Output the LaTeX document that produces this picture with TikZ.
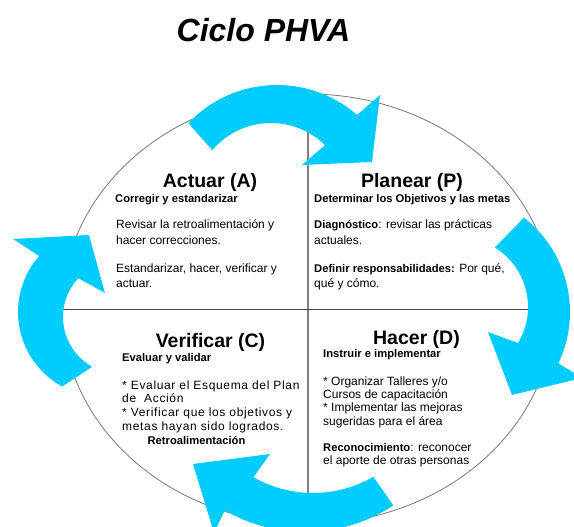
\documentclass[tikz,border=0pt]{standalone}
\usepackage{fontspec}
\setmainfont{Liberation Sans}
\newfontfamily\vsfont[LetterSpace=5.5]{Liberation Sans}
\usetikzlibrary{shapes.geometric}
\definecolor{arrowc}{RGB}{0,204,255}
\definecolor{ellc}{RGB}{120,120,120}
\definecolor{vlc}{RGB}{128,128,128}
\definecolor{hlc}{RGB}{70,70,70}
\newcommand\boldlab[1]{{\fontsize{11.2}{13}\selectfont\bfseries #1}}
\begin{document}
\begin{tikzpicture}[x=1pt,y=-1pt,
  hd/.style={font=\fontsize{19.5}{21}\selectfont\bfseries, anchor=base, inner sep=0},
  sub/.style={font=\fontsize{11.2}{13}\selectfont\bfseries, anchor=base west, inner sep=0},
  bd/.style={font=\fontsize{12}{14}\selectfont, anchor=base west, inner sep=0},
  bdv/.style={font=\vsfont\fontsize{12}{14}\selectfont, anchor=base west, inner sep=0},
  blk/.style={fill=arrowc},
  vline/.style={draw=vlc, line width=1.1pt},
  hline/.style={draw=hlc, line width=0.8pt}]
\fill[white] (0,0) rectangle (574,527);
\useasboundingbox (0,0) rectangle (574,527);
% title
\node[font=\fontsize{32}{34}\selectfont\bfseries\itshape, anchor=base, inner sep=0] (title) at (263.5,42) {Ciclo PHVA};
% ellipse and axes
\node[draw=ellc, line width=0.8pt, ellipse, minimum width=492pt, minimum height=430pt, inner sep=0] (E) at (308,309) {};
\draw[vline] (E.north) -- (E.south);
\draw[hline] (E.west) -- (E.east);
% arrows
\coordinate (tcO) at (277,207);
\coordinate (tcI) at (271,200);
\coordinate (rcO) at (450,312);
\coordinate (rcI) at (458,307);
\coordinate (bcO) at (305,372);
\coordinate (bcI) at (313,373);
\coordinate (lcO) at (103,312);
\coordinate (lcI) at (120,317);
\begin{scope}
\clip (0,0) rectangle (574,527);
\fill[blk] ([shift={(-136.6:122)}]tcO) arc[start angle=-136.6, end angle=-49, radius=122]
  -- (380,95) -- (372,162) -- (302,165)
  -- ([shift={(-45.5:77)}]tcI) arc[start angle=-45.5, end angle=-139.7, radius=77] -- cycle;
\fill[blk] ([shift={(-51.9:120)}]rcO) arc[start angle=-51.9, end angle=25.3, radius=120]
  -- (582,378) -- (512,395) -- (488,332)
  -- ([shift={(31:70)}]rcI) arc[start angle=31, end angle=-58.3, radius=70] -- cycle;
\fill[blk] ([shift={(56.5:160)}]bcO) arc[start angle=56.5, end angle=120.1, radius=160]
  -- (214,533) -- (193,464) -- (270,454)
  -- ([shift={(119.7:120)}]bcI) arc[start angle=119.7, end angle=59.8, radius=120] -- cycle;
\fill[blk] ([shift={(118.7:85)}]lcO) arc[start angle=118.7, end angle=221.2, radius=85]
  -- (13,239) -- (89,235) -- (105,293)
  -- ([shift={(222.9:57)}]lcI) arc[start angle=222.9, end angle=119.2, radius=57] -- cycle;
\end{scope}
% Actuar
\node[hd] (aH) at (210,188) {Actuar (A)};
\node[sub] (aS) at (115,202) {Corregir y estandarizar};
\node[bd] (a1) at (116,229) {Revisar la retroalimentación y};
\node[bd] (a2) at (116,244) {hacer correcciones.};
\node[bd] (a3) at (116,272) {Estandarizar, hacer, verificar y};
\node[bd] (a4) at (116,287) {actuar.};
% Planear
\node[hd] (pH) at (412,188) {Planear (P)};
\node[sub] (pS) at (314,202) {Determinar los Objetivos y las metas};
\node[bd] (p1) at (314,229) {\boldlab{Diagnóstico}: revisar las prácticas};
\node[bd] (p2) at (314,244) {actuales.};
\node[bd] (p3) at (314,272) {\boldlab{Definir responsabilidades:} Por qué,};
\node[bd] (p4) at (314,287) {qué y cómo.};
% Verificar
\node[hd] (vH) at (210.5,347) {Verificar (C)};
\node[sub] (vS) at (122,361) {Evaluar y validar};
\node[bdv] (v1) at (122,389) {* Evaluar el Esquema del Plan};
\node[bdv] (v2) at (122,402) {de\ \ Acción};
\node[bdv] (v3) at (122,416) {* Verificar que los objetivos y};
\node[bdv] (v4) at (122,430) {metas hayan sido logrados.};
\node[sub, anchor=base] (v5) at (196.5,444) {Retroalimentación};
% Hacer
\node[hd] (hH) at (416.5,344) {Hacer (D)};
\node[sub] (hS) at (323,357) {Instruir e implementar};
\node[bd] (h1) at (323,385) {* Organizar Talleres y/o};
\node[bd] (h2) at (323,398) {Cursos de capacitación};
\node[bd] (h3) at (323,411) {* Implementar las mejoras};
\node[bd] (h4) at (323,425) {sugeridas para el área};
\node[bd] (h5) at (323,451) {\boldlab{Reconocimiento}: reconocer};
\node[bd] (h6) at (323,464) {el aporte de otras personas};
\end{tikzpicture}
\end{document}
